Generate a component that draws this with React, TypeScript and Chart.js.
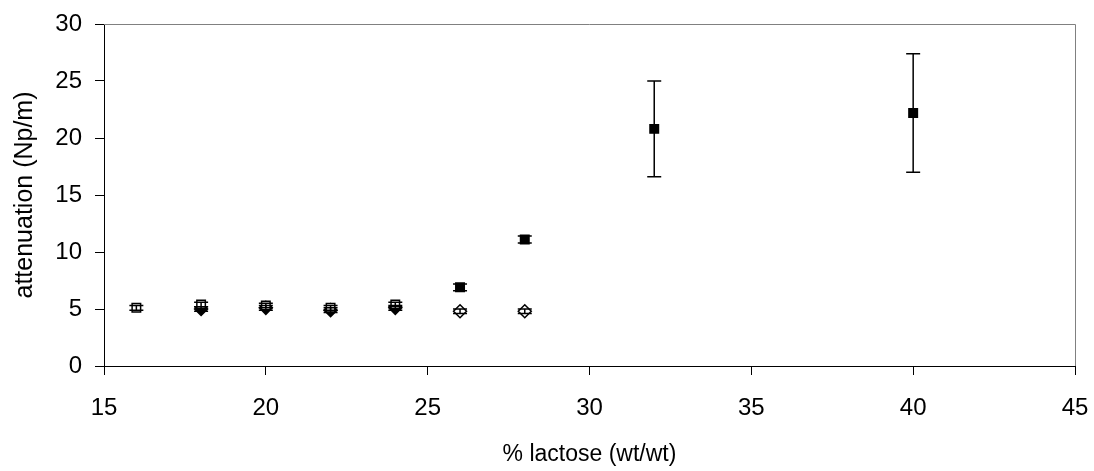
import React, { useEffect, useRef } from "react";
import { Chart, registerables } from "chart.js";

Chart.register(...registerables);

// Series: open squares
const xOpenSquare = [16, 18, 20, 22, 24];
const yOpenSquare = [5.1, 5.4, 5.3, 5.1, 5.4];
const eOpenSquare = [0.2, 0.2, 0.2, 0.2, 0.2];
// Series: filled diamonds
const xFilledDiamond = [18, 20, 22, 24];
const yFilledDiamond = [5.0, 5.1, 4.9, 5.1];
const eFilledDiamond = [0.2, 0.2, 0.2, 0.2];
// Series: filled squares
const xFilledSquare = [26, 28, 32, 40];
const yFilledSquare = [6.9, 11.1, 20.8, 22.2];
const eFilledSquare = [0.3, 0.3, 4.2, 5.2];
// Series: open diamonds
const xOpenDiamond = [26, 28];
const yOpenDiamond = [4.8, 4.8];
const eOpenDiamond = [0.2, 0.2];

const xTicks = [15, 20, 25, 30, 35, 40, 45];
const yTicks = [0, 5, 10, 15, 20, 25, 30];

const FONT = "'Liberation Sans', Arial, sans-serif";

const toPts = (xs: number[], ys: number[]) => xs.map((x, i) => ({ x, y: ys[i] }));

export default function App() {
  const ref = useRef<HTMLCanvasElement | null>(null);

  useEffect(() => {
    if (!ref.current) return;
    const errs = [eOpenSquare, eFilledDiamond, eFilledSquare, eOpenDiamond];

    const errorBars = {
      id: "errorBars",
      afterDatasetsDraw(chart: any) {
        const ctx = chart.ctx;
        const xs = chart.scales.x;
        const ys = chart.scales.y;
        ctx.save();
        ctx.strokeStyle = "#000";
        ctx.lineWidth = 1.5;
        chart.data.datasets.forEach((ds: any, di: number) => {
          const e = errs[di];
          ds.data.forEach((p: any, i: number) => {
            const px = xs.getPixelForValue(p.x);
            const top = ys.getPixelForValue(p.y + e[i]);
            const bot = ys.getPixelForValue(p.y - e[i]);
            const cap = 7;
            ctx.beginPath();
            ctx.moveTo(px, top);
            ctx.lineTo(px, bot);
            ctx.moveTo(px - cap, top);
            ctx.lineTo(px + cap, top);
            ctx.moveTo(px - cap, bot);
            ctx.lineTo(px + cap, bot);
            ctx.stroke();
          });
        });
        ctx.restore();
      },
    };

    const frame = {
      id: "frame",
      beforeDatasetsDraw(chart: any) {
        const { left, right, top, bottom } = chart.chartArea;
        const ctx = chart.ctx;
        ctx.save();
        ctx.strokeStyle = "#808080";
        ctx.lineWidth = 1;
        ctx.beginPath();
        ctx.moveTo(left, top + 0.5);
        ctx.lineTo(right + 0.5, top + 0.5);
        ctx.lineTo(right + 0.5, bottom);
        ctx.stroke();
        ctx.restore();
      },
    };

    const mk = (data: any, style: string, fill: string, r: number) => ({
      data,
      showLine: false,
      pointStyle: style,
      pointRadius: r,
      pointBackgroundColor: fill,
      pointBorderColor: "#000",
      pointBorderWidth: 1.5,
    });

    const chart = new Chart(ref.current, {
      type: "scatter",
      data: {
        datasets: [
          mk(toPts(xOpenSquare, yOpenSquare), "rect", "#fff", 6),
          mk(toPts(xFilledDiamond, yFilledDiamond), "rectRot", "#000", 6.5),
          mk(toPts(xFilledSquare, yFilledSquare), "rect", "#000", 6),
          mk(toPts(xOpenDiamond, yOpenDiamond), "rectRot", "#fff", 6.5),
        ] as any,
      },
      options: {
        animation: false,
        responsive: false,
        maintainAspectRatio: false,
        layout: { padding: { left: 0, right: 19, top: 24, bottom: 0 } },
        plugins: { legend: { display: false }, tooltip: { enabled: false } },
        scales: {
          x: {
            type: "linear",
            min: 15,
            max: 45,
            afterBuildTicks: (s: any) => {
              s.ticks = xTicks.map((v) => ({ value: v }));
            },
            afterFit: (s: any) => {
              s.height = 105;
              s.paddingLeft = 0;
              s.paddingRight = 0;
            },
            grid: { display: true, drawOnChartArea: false, tickLength: 9, color: "#000", lineWidth: 1 },
            border: { display: true, color: "#000", width: 1 },
            ticks: { color: "#000", font: { family: FONT, size: 24 }, padding: 19, maxRotation: 0 },
            title: {
              display: true,
              text: "% lactose (wt/wt)",
              color: "#000",
              font: { family: FONT, size: 23 },
              padding: { top: 0, bottom: 3 },
            },
          },
          y: {
            type: "linear",
            min: 0,
            max: 30,
            afterBuildTicks: (s: any) => {
              s.ticks = yTicks.map((v) => ({ value: v }));
            },
            afterFit: (s: any) => {
              s.width = 104;
              s.paddingTop = 0;
              s.paddingBottom = 0;
            },
            grid: { display: true, drawOnChartArea: false, tickLength: 9, color: "#000", lineWidth: 1 },
            border: { display: true, color: "#000", width: 1 },
            ticks: { color: "#000", font: { family: FONT, size: 24 }, padding: 13 },
            title: {
              display: true,
              text: "attenuation (Np/m)",
              color: "#000",
              font: { family: FONT, size: 25 },
              padding: { top: 10, bottom: 0 },
            },
          },
        },
      },
      plugins: [frame, errorBars],
    });
    return () => chart.destroy();
  }, []);

  return (
    <div style={{ position: "absolute", left: 0, top: 0, width: 1094, height: 471, background: "#fff" }}>
      <canvas ref={ref} width={1094} height={471} style={{ display: "block" }} />
    </div>
  );
}
